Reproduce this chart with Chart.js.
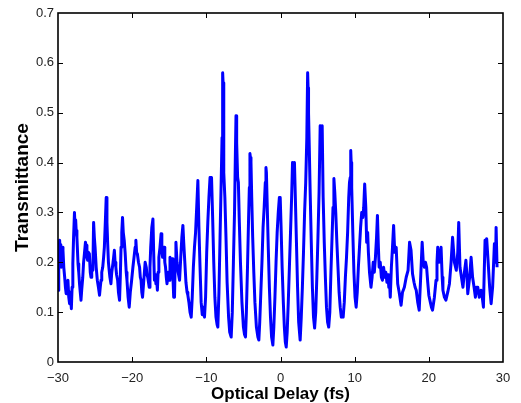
<!DOCTYPE html>
<html>
<head>
<meta charset="utf-8">
<script src="https://cdn.jsdelivr.net/npm/chart.js@4.4.1/dist/chart.umd.min.js"></script>
<style>
  html, body { margin: 0; padding: 0; background: #fff; }
  #wrap { width: 521px; height: 403px; }
</style>
</head>
<body>
<div id="wrap"><canvas id="myChart" width="521" height="403"></canvas></div>
<script>
// optical delay (fs)
var delay = [
  -30.0, -29.9, -29.78, -29.7, -29.62, -29.56, -29.45, -29.33, -29.22, -29.1,
  -29.0, -28.9, -28.8, -28.66, -28.55, -28.44, -28.35, -28.2, -28.1, -28.0,
  -27.9, -27.78, -27.7, -27.62, -27.55, -27.45, -27.3, -27.2, -27.1, -27.0,
  -26.9, -26.8, -26.66, -26.55, -26.44, -26.3, -26.2, -26.1, -26.0, -25.9,
  -25.77, -25.65, -25.55, -25.45, -25.3, -25.2, -25.1, -25.0, -24.85, -24.7,
  -24.55, -24.4, -24.3, -24.2, -24.1, -23.97, -23.85, -23.75, -23.62, -23.5,
  -23.4, -23.3, -23.2, -23.1, -23.0, -22.86, -22.75, -22.6, -22.5, -22.4,
  -22.3, -22.2, -22.1, -21.96, -21.85, -21.7, -21.6, -21.5, -21.4, -21.3,
  -21.2, -21.07, -20.95, -20.8, -20.7, -20.55, -20.4, -20.25, -20.1, -19.9,
  -19.75, -19.6, -19.5, -19.4, -19.3, -19.15, -19.0, -18.9, -18.8, -18.7,
  -18.6, -18.5, -18.4, -18.25, -18.1, -18.0, -17.9, -17.8, -17.7, -17.6,
  -17.5, -17.35, -17.2, -17.1, -17.0, -16.9, -16.8, -16.7, -16.6, -16.5,
  -16.4, -16.25, -16.1, -16.0, -15.9, -15.8, -15.7, -15.6, -15.5, -15.4,
  -15.3, -15.15, -15.0, -14.9, -14.8, -14.7, -14.6, -14.5, -14.4,
  -14.29, -14.2, -14.1, -13.95, -13.8, -13.61, -13.45, -13.3, -13.16, -13.05,
  -12.9, -12.75, -12.6, -12.49, -12.35, -12.2, -12.04, -11.9, -11.75, -11.6,
  -11.45, -11.3, -11.14, -11.0, -10.85, -10.7, -10.55, -10.42, -10.25, -10.1,
  -9.95, -9.8, -9.65, -9.5, -9.4, -9.3, -9.15, -9.0, -8.85, -8.7,
  -8.55, -8.45, -8.3, -8.15, -8.0, -7.88, -7.8, -7.74, -7.68, -7.62, -7.5,
  -7.35, -7.2, -7.0, -6.85, -6.65, -6.5, -6.35, -6.2, -6.08, -6.0, -5.94,
  -5.88, -5.78, -5.68, -5.55, -5.4, -5.2, -5.0, -4.85, -4.72, -4.6,
  -4.45, -4.3, -4.2, -4.12, -4.06, -3.98, -3.88, -3.75, -3.6, -3.45, -3.25,
  -3.05, -2.92, -2.8, -2.65, -2.5, -2.35, -2.2, -2.05, -1.96, -1.9, -1.8,
  -1.65, -1.5, -1.35, -1.2, -1.03, -0.9, -0.75, -0.6, -0.45, -0.3,
  -0.15, -0.04, 0.08, 0.22, 0.38, 0.52, 0.65, 0.77, 0.9, 1.05,
  1.2, 1.35, 1.5, 1.62, 1.75, 1.88, 2.0, 2.15, 2.3, 2.45,
  2.65, 2.8, 2.95, 3.1, 3.25, 3.4, 3.55, 3.66, 3.72, 3.78, 3.88,
  4.0, 4.15, 4.3, 4.45, 4.6, 4.75, 4.9, 5.05, 5.2, 5.35,
  5.5, 5.62, 5.75, 5.9, 6.05, 6.2, 6.35, 6.5, 6.65, 6.8,
  6.95, 7.08, 7.2, 7.32, 7.45, 7.6, 7.75, 7.9, 8.05, 8.2,
  8.35, 8.45, 8.6, 8.75, 8.9, 9.05, 9.2, 9.3, 9.4, 9.47, 9.53,
  9.6, 9.75, 9.9, 10.05, 10.2, 10.35, 10.5, 10.65, 10.8, 10.95,
  11.1, 11.22, 11.35, 11.5, 11.62, 11.75, 11.85, 12.0, 12.2, 12.35,
  12.5, 12.65, 12.8, 12.95, 13.07, 13.2, 13.3, 13.45, 13.6, 13.75,
  13.9, 14.05, 14.2, 14.35, 14.5, 14.6, 14.7, 14.8, 14.95, 15.1,
  15.25, 15.4, 15.6, 15.8,
  16.0, 16.26, 16.45, 16.7, 16.95, 17.2, 17.4, 17.6, 17.8, 18.0,
  18.15, 18.3, 18.5, 18.7, 18.9, 19.1, 19.25, 19.4, 19.55, 19.7,
  19.85, 20.0, 20.2, 20.35, 20.5, 20.75, 20.97, 21.1, 21.2, 21.4,
  21.55, 21.65, 21.8, 21.9, 22.1, 22.3, 22.55, 22.78, 23.0, 23.2,
  23.45, 23.7, 23.9, 24.03, 24.2, 24.4, 24.6, 24.8, 25.0, 25.15,
  25.25, 25.5, 25.7, 25.9, 26.1, 26.28, 26.45, 26.6, 26.8, 27.04,
  27.2, 27.36, 27.47, 27.58, 27.7, 27.8, 28.0, 28.2, 28.4, 28.6,
  28.84, 29.0, 29.07, 29.2
];

// transmittance
var transmittance = [
  0.144, 0.20, 0.244, 0.22, 0.235, 0.19, 0.23, 0.224, 0.19, 0.17,
  0.15, 0.137, 0.16, 0.164, 0.13, 0.117, 0.14, 0.107, 0.15, 0.197,
  0.25, 0.30, 0.27, 0.285, 0.264, 0.25, 0.197, 0.18, 0.157, 0.14,
  0.124, 0.145, 0.17, 0.20, 0.217, 0.24, 0.234, 0.21, 0.204, 0.22,
  0.217, 0.18, 0.17, 0.19, 0.184, 0.28, 0.25, 0.23, 0.19, 0.164,
  0.15, 0.134, 0.15, 0.164, 0.18, 0.19, 0.21, 0.23, 0.28, 0.33,
  0.28, 0.237, 0.20, 0.184, 0.17, 0.157, 0.18, 0.197, 0.21, 0.224,
  0.20, 0.19, 0.175, 0.164, 0.14, 0.124, 0.17, 0.23, 0.26, 0.29,
  0.26, 0.244, 0.22, 0.18, 0.164, 0.13, 0.11, 0.14, 0.16, 0.19,
  0.21, 0.23, 0.244, 0.22, 0.217, 0.20, 0.19, 0.17, 0.164, 0.14,
  0.13, 0.15, 0.17, 0.20, 0.19, 0.175, 0.17, 0.16, 0.15, 0.19,
  0.23, 0.27, 0.287, 0.22, 0.164, 0.175, 0.157, 0.165, 0.144, 0.18,
  0.21, 0.23, 0.257, 0.23, 0.21, 0.22, 0.23, 0.20, 0.19, 0.17,
  0.157, 0.18, 0.164, 0.21, 0.204, 0.20, 0.207, 0.17, 0.13,
  0.13, 0.20, 0.24, 0.20, 0.18, 0.164, 0.21, 0.25, 0.274, 0.24,
  0.20, 0.16, 0.14, 0.134, 0.12, 0.10, 0.09, 0.13, 0.19, 0.23,
  0.26, 0.31, 0.364, 0.27, 0.19, 0.12, 0.095, 0.11, 0.09, 0.13,
  0.22, 0.28, 0.33, 0.37, 0.35, 0.37, 0.29, 0.20, 0.13, 0.09,
  0.075, 0.07, 0.14, 0.25, 0.36, 0.45, 0.58, 0.56, 0.46, 0.38, 0.33,
  0.25, 0.16, 0.09, 0.06, 0.05, 0.10, 0.20, 0.30, 0.42, 0.494, 0.47,
  0.44, 0.37, 0.36, 0.28, 0.20, 0.12, 0.07, 0.055, 0.05, 0.10,
  0.19, 0.29, 0.35, 0.418, 0.41, 0.40, 0.33, 0.25, 0.18, 0.12, 0.07,
  0.05, 0.044, 0.08, 0.14, 0.20, 0.27, 0.31, 0.36, 0.39, 0.38, 0.32,
  0.23, 0.15, 0.09, 0.05, 0.034, 0.07, 0.13, 0.20, 0.26, 0.30,
  0.33, 0.33, 0.27, 0.19, 0.12, 0.07, 0.04, 0.03, 0.06, 0.12,
  0.19, 0.26, 0.33, 0.40, 0.38, 0.40, 0.33, 0.24, 0.15, 0.08,
  0.044, 0.09, 0.15, 0.22, 0.30, 0.36, 0.45, 0.58, 0.55, 0.50, 0.43,
  0.34, 0.24, 0.15, 0.09, 0.068, 0.10, 0.17, 0.25, 0.34, 0.474,
  0.45, 0.474, 0.33, 0.24, 0.17, 0.11, 0.08, 0.07, 0.10, 0.18,
  0.25, 0.31, 0.368, 0.34, 0.30, 0.24, 0.19, 0.14, 0.11, 0.09,
  0.10, 0.09, 0.12, 0.17, 0.21, 0.26, 0.33, 0.36, 0.37, 0.424, 0.40,
  0.35, 0.26, 0.18, 0.13, 0.11, 0.14, 0.19, 0.23, 0.27, 0.30,
  0.29, 0.31, 0.357, 0.31, 0.24, 0.26, 0.22, 0.18, 0.15, 0.17,
  0.20, 0.18, 0.21, 0.25, 0.294, 0.23, 0.19, 0.20, 0.17, 0.164,
  0.19, 0.17, 0.18, 0.16, 0.175, 0.15, 0.16, 0.13, 0.19, 0.23,
  0.274, 0.22, 0.23, 0.157,
  0.14, 0.114, 0.14, 0.15, 0.17, 0.184, 0.24, 0.224, 0.177, 0.16,
  0.15, 0.144, 0.12, 0.104, 0.17, 0.24, 0.20, 0.19, 0.20, 0.19,
  0.16, 0.134, 0.12, 0.11, 0.104, 0.13, 0.164, 0.20, 0.23, 0.20,
  0.21, 0.23, 0.17, 0.144, 0.13, 0.124, 0.14, 0.157, 0.20, 0.25,
  0.20, 0.184, 0.22, 0.28, 0.19, 0.17, 0.15, 0.18, 0.204, 0.17,
  0.137, 0.17, 0.21, 0.17, 0.15, 0.13, 0.15, 0.15, 0.13, 0.144,
  0.13, 0.11, 0.18, 0.244, 0.23, 0.247, 0.20, 0.15, 0.117, 0.15,
  0.237, 0.20, 0.27, 0.19
];

var xTicks = [-30, -20, -10, 0, 10, 20, 30];
var xTickLabels = ['\u221230', '\u221220', '\u221210', '0', '10', '20', '30'];
var yTicks = [0, 0.1, 0.2, 0.3, 0.4, 0.5, 0.6, 0.7];
var yTickLabels = ['0', '0.1', '0.2', '0.3', '0.4', '0.5', '0.6', '0.7'];

var points = delay.map(function (d, i) { return { x: d, y: transmittance[i] }; });

// matlab style box with inward ticks
var boxTicks = {
  id: 'boxTicks',
  afterDraw: function (chart) {
    var ctx = chart.ctx, a = chart.chartArea;
    var xs = chart.scales.x, ys = chart.scales.y;
    ctx.save();
    ctx.strokeStyle = '#000';
    ctx.lineWidth = 1;
    ctx.beginPath();
    xTicks.slice(1, -1).forEach(function (v) {
      var px = Math.round(xs.getPixelForValue(v)) + 0.5;
      ctx.moveTo(px, a.bottom); ctx.lineTo(px, a.bottom - 5);
      ctx.moveTo(px, a.top); ctx.lineTo(px, a.top + 5);
    });
    yTicks.slice(1, -1).forEach(function (v) {
      var py = Math.round(ys.getPixelForValue(v)) + 0.5;
      ctx.moveTo(a.left, py); ctx.lineTo(a.left + 5, py);
      ctx.moveTo(a.right, py); ctx.lineTo(a.right - 5, py);
    });
    ctx.stroke();
    ctx.lineWidth = 1.6;
    ctx.strokeRect(a.left, a.top, a.right - a.left, a.bottom - a.top);
    ctx.restore();
  }
};

var ctx = document.getElementById('myChart').getContext('2d');

var chart = new Chart(ctx, {
  type: 'line',
  data: {
    datasets: [{
      data: points,
      borderColor: '#0000ff',
      borderWidth: 3,
      borderJoinStyle: 'round',
      pointRadius: 0,
      tension: 0,
      fill: false
    }]
  },
  options: {
    responsive: false,
    animation: false,
    layout: { padding: { left: 0, top: 13, right: 18, bottom: 0 } },
    plugins: { legend: { display: false }, tooltip: { enabled: false } },
    scales: {
      x: {
        type: 'linear',
        min: -30, max: 30,
        afterBuildTicks: function (s) { s.ticks = xTicks.map(function (v) { return { value: v }; }); },
        afterFit: function (s) { s.height = 41; },
        grid: { display: false, drawTicks: false },
        border: { display: false },
        ticks: {
          padding: 9,
          color: '#222',
          font: { family: 'Liberation Sans, Arial, sans-serif', size: 13 },
          callback: function (v) { return xTickLabels[xTicks.indexOf(v)]; }
        },
        title: {
          display: true,
          text: 'Optical Delay (fs)',
          color: '#000',
          padding: { top: 0, bottom: 0.5 },
          font: { family: 'Liberation Sans, Arial, sans-serif', size: 17, weight: 'bold', lineHeight: 1 }
        }
      },
      y: {
        min: 0, max: 0.7,
        afterBuildTicks: function (s) { s.ticks = yTicks.map(function (v) { return { value: v }; }); },
        afterFit: function (s) { s.width = 58; },
        grid: { display: false, drawTicks: false },
        border: { display: false },
        ticks: {
          padding: 4,
          color: '#222',
          font: { family: 'Liberation Sans, Arial, sans-serif', size: 13 },
          callback: function (v) { return yTickLabels[yTicks.indexOf(v)]; }
        },
        title: {
          display: true,
          text: 'Transmittance',
          color: '#000',
          padding: { top: 13, bottom: 0 },
          font: { family: 'Liberation Sans, Arial, sans-serif', size: 19, weight: 'bold', lineHeight: 1 }
        }
      }
    }
  },
  plugins: [boxTicks]
});
</script>
</body>
</html>
